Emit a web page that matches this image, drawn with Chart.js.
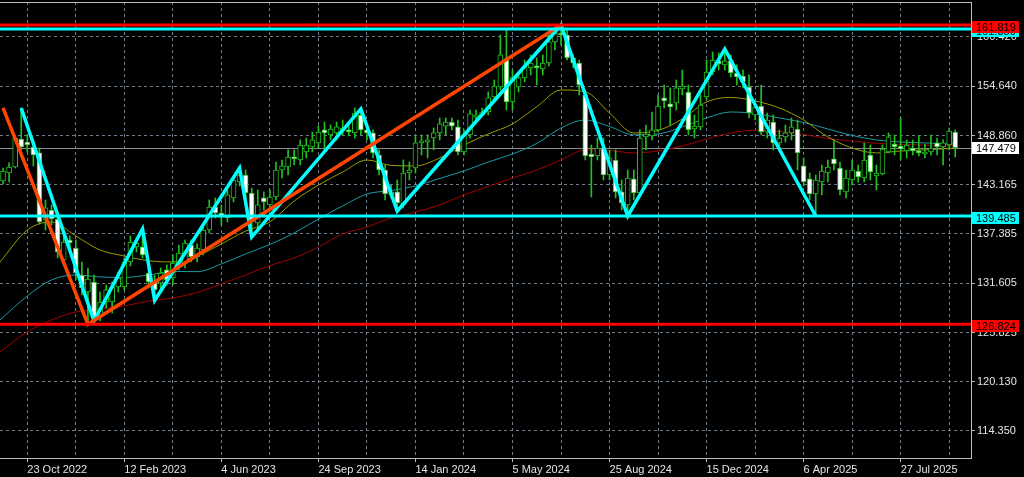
<!DOCTYPE html>
<html>
<head>
<meta charset="utf-8">
<title>Weekly chart</title>
<script src="https://cdn.jsdelivr.net/npm/chart.js@4.4.1/dist/chart.umd.min.js"></script>
<style>
  html, body { margin: 0; padding: 0; background: #000; }
  canvas { display: block; }
</style>
</head>
<body>
<canvas id="chart" width="1024" height="477"></canvas>
<script>
// weekly candles, week 0 = 23 Oct 2022, first candle 4 weeks before
var firstWeek = -4;
var open = [
  143.58, 144.52, 145.22, 148.49, 148.14, 147.56, 146.86, 139.02, 140.19, 139.14,
  134.35, 136.68, 135.75, 132.59, 130.60, 131.77, 127.68, 129.43, 129.43, 131.19,
  131.19, 134.11, 135.87, 135.87, 132.82, 131.77, 131.66, 133.18, 132.24, 133.53,
  133.99, 136.10, 134.69, 135.51, 137.85, 140.54, 139.84, 139.26, 141.60, 143.46,
  144.28, 142.18, 138.67, 141.60, 140.78, 141.71, 144.87, 145.22, 146.39, 146.04,
  146.97, 147.56, 148.03, 149.55, 148.96, 149.20, 149.43, 149.55, 149.20, 151.30,
  149.55, 149.20, 146.62, 144.87, 141.95, 142.30, 140.78, 144.52, 145.10, 148.03,
  148.14, 148.61, 149.20, 149.99, 150.48, 149.90, 146.97, 148.96, 151.07, 151.30,
  151.65, 153.41, 154.57, 157.85, 152.82, 154.57, 155.63, 156.80, 157.03, 156.68,
  157.38, 159.84, 160.77, 160.65, 157.97, 157.38, 153.64, 146.74, 146.51, 147.44,
  144.28, 146.04, 142.30, 140.78, 143.82, 142.18, 148.73, 148.85, 149.55, 153.29,
  152.59, 152.70, 154.34, 153.99, 149.66, 149.90, 153.41, 156.33, 157.62, 157.15,
  157.62, 156.21, 155.86, 154.57, 151.30, 152.35, 149.31, 150.48, 148.03, 148.73,
  149.20, 149.66, 145.34, 143.82, 142.06, 143.46, 144.52, 146.16, 145.10, 142.30,
  143.70, 144.75, 143.93, 146.62, 144.17, 144.40, 146.97, 147.91, 147.67, 147.09,
  147.44, 147.09, 146.74, 146.97, 148.03, 147.56, 147.79, 149.31
];
var high = [
  145.10, 145.69, 148.96, 152.12, 148.96, 148.38, 147.44, 141.36, 140.78, 139.96,
  137.62, 137.15, 136.68, 134.11, 133.41, 132.59, 130.60, 131.42, 131.77, 132.94,
  134.58, 137.15, 136.92, 137.97, 133.41, 132.59, 133.41, 133.76, 134.93, 136.10,
  136.68, 136.68, 136.22, 138.20, 141.36, 141.60, 140.78, 142.53, 144.17, 145.10,
  144.87, 142.76, 142.53, 142.30, 142.53, 145.80, 146.04, 147.21, 147.21, 148.38,
  148.61, 149.31, 150.01, 150.48, 150.13, 150.48, 150.71, 150.48, 152.12, 152.00,
  150.13, 149.55, 147.21, 145.45, 143.11, 143.70, 146.04, 145.80, 148.73, 148.96,
  148.96, 149.78, 150.95, 150.95, 150.95, 150.71, 149.55, 151.88, 151.88, 152.12,
  154.00, 155.39, 160.65, 161.24, 156.56, 156.33, 157.73, 158.32, 157.97, 158.32,
  160.65, 161.47, 161.82, 161.47, 158.32, 157.73, 154.22, 147.79, 148.61, 148.61,
  147.21, 147.21, 143.70, 144.87, 144.87, 149.55, 150.13, 151.65, 153.64, 154.81,
  154.46, 155.39, 156.56, 154.81, 151.30, 153.64, 157.73, 158.67, 158.55, 159.02,
  158.32, 157.15, 156.56, 155.98, 153.05, 154.81, 151.53, 151.30, 149.55, 150.13,
  150.95, 150.71, 146.27, 144.52, 144.28, 145.45, 146.04, 148.38, 145.80, 144.87,
  146.04, 145.45, 148.03, 147.79, 145.45, 147.79, 149.20, 148.96, 150.95, 148.38,
  148.38, 148.85, 147.91, 148.96, 148.61, 148.38, 149.78, 149.55
];
var low = [
  143.23, 143.46, 145.10, 147.21, 146.97, 145.34, 138.55, 137.85, 138.44, 134.58,
  133.76, 135.75, 132.01, 130.25, 126.82, 127.20, 127.21, 128.73, 128.15, 130.60,
  130.84, 133.64, 135.28, 134.58, 131.07, 129.60, 130.84, 131.42, 131.42, 133.18,
  133.41, 134.11, 134.11, 134.93, 137.50, 139.26, 138.44, 138.79, 141.13, 143.00,
  141.60, 137.03, 138.09, 140.19, 140.19, 141.36, 143.93, 144.28, 145.45, 145.45,
  146.27, 146.97, 147.44, 147.21, 148.38, 148.38, 148.96, 148.85, 148.61, 148.96,
  148.38, 146.27, 144.28, 141.36, 141.60, 140.07, 140.43, 143.70, 144.52, 146.62,
  146.27, 147.21, 148.38, 148.96, 149.55, 146.62, 146.62, 148.61, 150.71, 151.18,
  151.30, 153.05, 154.22, 151.88, 151.88, 153.99, 155.16, 155.98, 154.81, 155.98,
  157.03, 158.90, 159.49, 157.73, 156.80, 153.64, 146.04, 141.71, 146.04, 143.70,
  143.70, 141.60, 140.19, 139.49, 141.36, 141.83, 147.21, 148.38, 149.31, 152.12,
  150.13, 151.88, 153.64, 148.96, 148.61, 149.55, 153.05, 155.98, 156.56, 156.56,
  155.74, 154.81, 154.46, 150.95, 150.71, 148.96, 148.61, 147.21, 147.44, 148.14,
  148.38, 144.87, 142.99, 141.36, 139.49, 141.95, 143.46, 144.87, 141.95, 141.60,
  143.11, 143.46, 143.46, 143.70, 142.53, 144.28, 146.86, 146.62, 146.04, 146.27,
  146.62, 146.51, 146.27, 146.62, 146.62, 145.45, 147.21, 146.39
];
var close = [
  144.75, 145.22, 148.61, 147.56, 147.79, 146.62, 138.79, 140.43, 139.14, 135.28,
  136.45, 136.33, 132.82, 131.07, 132.12, 127.68, 129.43, 130.84, 131.19, 132.24,
  134.11, 136.45, 136.33, 134.93, 131.77, 130.84, 132.82, 132.01, 133.99, 135.16,
  136.33, 134.69, 135.75, 137.85, 140.54, 139.84, 139.37, 141.95, 143.70, 144.28,
  142.18, 138.79, 140.78, 141.13, 141.71, 144.87, 145.34, 146.39, 146.16, 147.79,
  147.79, 148.38, 149.31, 149.20, 149.66, 149.90, 149.78, 149.31, 151.53, 149.55,
  149.20, 146.86, 144.87, 142.06, 142.30, 141.01, 144.52, 144.87, 148.03, 148.26,
  148.38, 149.20, 150.25, 150.48, 149.99, 146.97, 148.96, 151.42, 151.30, 151.65,
  153.29, 154.69, 158.32, 152.82, 155.74, 155.63, 156.91, 157.38, 156.80, 157.38,
  159.84, 160.89, 160.65, 157.97, 157.38, 154.81, 146.51, 146.39, 147.44, 144.28,
  146.27, 142.30, 141.01, 143.93, 142.18, 148.61, 149.08, 149.55, 152.35, 152.94,
  152.23, 154.46, 154.69, 149.55, 150.01, 152.47, 156.33, 157.73, 157.27, 157.62,
  156.21, 155.74, 155.16, 151.53, 152.23, 149.31, 150.71, 148.03, 148.61, 149.20,
  149.90, 146.86, 143.46, 142.06, 143.70, 144.75, 145.22, 145.57, 142.53, 143.93,
  144.87, 144.05, 146.04, 144.63, 144.52, 147.32, 148.73, 147.56, 147.32, 147.79,
  147.09, 146.86, 146.97, 147.44, 147.56, 148.03, 149.43, 147.48
];

// moving averages
var maWeeks = [-4.5, 0, 4, 8, 12, 16, 20, 24, 28, 32, 36, 40, 44, 48, 52, 56, 60, 64, 68, 72,
  76, 80, 84, 88, 92, 96, 100, 104, 108, 112, 116, 120, 124, 128, 132, 136, 140, 144, 148, 152, 153];
var maYellow = [134.11, 137.85, 138.79, 137.15, 135.51, 134.81, 134.26, 134.11, 134.81, 136.22,
  137.73, 138.79, 141.24, 143.11, 144.63, 146.04, 145.40, 145.34, 146.27, 147.79,
  149.08, 150.25, 152.26, 154.22, 154.02, 151.53, 149.20, 149.49, 150.83, 152.82,
  153.35, 152.94, 152.12, 150.71, 148.73, 147.44, 146.86, 147.09, 147.21, 147.38, 147.44];
var maTeal = [127.33, 130.14, 132.01, 132.59, 132.36, 132.30, 132.59, 133.00, 132.98, 133.88,
  135.05, 136.16, 137.50, 139.14, 140.66, 142.06, 142.47, 143.00, 143.88, 144.75,
  145.80, 146.74, 147.97, 149.78, 150.71, 149.95, 148.99, 149.08, 149.90, 150.95,
  151.65, 151.47, 150.95, 150.42, 149.66, 148.90, 148.38, 148.14, 148.03, 147.93, 147.91];
var maRed = [123.59, 125.93, 127.33, 128.26, 128.61, 128.97, 129.55, 129.90, 130.55, 131.54,
  132.59, 133.70, 134.58, 135.86, 137.38, 138.20, 139.26, 139.96, 140.78, 141.95,
  142.94, 143.93, 144.87, 146.04, 147.21, 147.15, 146.86, 147.09, 147.67, 148.49,
  149.20, 149.52, 149.37, 149.02, 148.55, 148.26, 148.00, 147.85, 147.77, 147.71, 147.71];

// zigzag swings
var cyanWeeks = [-1, 11, 19, 21, 35, 37, 55, 61, 88, 99, 115, 130];
var cyanPrices = [152.12, 127.20, 137.97, 129.60, 145.10, 137.03, 152.00, 140.07, 161.82, 139.49, 159.02, 139.49];
var orangeWeeks = [-4, 10, 88];
var orangePrices = [152.12, 126.82, 161.82];

// horizontal levels and last price
var levelPrices = [161.35, 161.819, 139.485, 126.824];
var levelKinds = ['cyan', 'red', 'cyan', 'red'];
var lastPrice = 147.479;

// axes
var tickWeeks = [0, 16, 32, 48, 64, 80, 96, 112, 128, 144];
var tickLabels = ['23 Oct 2022', '12 Feb 2023', '4 Jun 2023', '24 Sep 2023', '14 Jan 2024',
  '5 May 2024', '25 Aug 2024', '15 Dec 2024', '6 Apr 2025', '27 Jul 2025'];
var priceTicks = [160.420, 154.640, 148.860, 143.165, 137.385, 131.605, 125.825, 120.130, 114.350];

var GREEN = '#20c020';
var GRID = '#6e7c8c';
var AXIS = '#bcbcbc';
var kindColor = { cyan: '#00ffff', red: '#ff0000' };

var wickData = [], bodyData = [], bodyFill = [];
for (var k = 0; k < open.length; k++) {
  var w = firstWeek + k;
  wickData.push({ x: w, y: [low[k], high[k]] });
  bodyData.push({ x: w, y: [open[k], close[k]] });
  bodyFill.push(close[k] >= open[k] ? '#000000' : '#ffffff');
}

function pts(xs, ys) {
  return xs.map(function(x, i) { return { x: x, y: ys[i] }; });
}

// keep chart area flush with the canvas edges
function noPad(scale) {
  scale.paddingTop = 0;
  scale.paddingBottom = 0;
  scale.paddingLeft = 0;
  scale.paddingRight = 0;
}

var levelsPlugin = {
  id: 'levels',
  beforeDatasetsDraw: function(chart) {
    var ctx = chart.ctx, a = chart.chartArea;
    var y = Math.round(chart.scales.y.getPixelForValue(lastPrice)) + 0.5;
    ctx.save();
    ctx.strokeStyle = '#8a8a8a';
    ctx.lineWidth = 1;
    ctx.beginPath();
    ctx.moveTo(a.left, y);
    ctx.lineTo(a.right, y);
    ctx.stroke();
    ctx.restore();
  },
  afterDatasetsDraw: function(chart) {
    var ctx = chart.ctx, a = chart.chartArea;
    ctx.save();
    levelPrices.forEach(function(p, i) {
      var y = chart.scales.y.getPixelForValue(p);
      ctx.strokeStyle = kindColor[levelKinds[i]];
      ctx.lineWidth = 3;
      ctx.beginPath();
      ctx.moveTo(a.left, y);
      ctx.lineTo(a.right, y);
      ctx.stroke();
    });
    ctx.restore();
  },
  afterDraw: function(chart) {
    var ctx = chart.ctx, a = chart.chartArea;
    ctx.save();
    // top frame line
    ctx.strokeStyle = AXIS;
    ctx.lineWidth = 1;
    ctx.beginPath();
    ctx.moveTo(a.left, a.top + 0.5);
    ctx.lineTo(a.right, a.top + 0.5);
    ctx.stroke();

    ctx.font = '11px "Liberation Sans", Arial, sans-serif';
    ctx.textBaseline = 'middle';
    ctx.textAlign = 'left';
    function box(p, fill, top) {
      var y = Math.round(chart.scales.y.getPixelForValue(p));
      ctx.fillStyle = fill;
      ctx.fillRect(a.right + 1, y + top, 47, 12);
      ctx.fillStyle = '#000000';
      ctx.fillText(p.toFixed(3), a.right + 5, y + top + 6.5);
    }
    levelPrices.forEach(function(p, i) { box(p, kindColor[levelKinds[i]], -4); });
    box(lastPrice, '#ffffff', -6);
    ctx.restore();
  }
};

var chart = new Chart(document.getElementById('chart'), {
  type: 'bar',
  data: {
    datasets: [
      { type: 'line', data: pts(orangeWeeks, orangePrices), borderColor: '#ff4500', borderWidth: 3.5,
        pointRadius: 0, order: 1 },
      { type: 'line', data: pts(cyanWeeks, cyanPrices), borderColor: '#00ffff', borderWidth: 3.5,
        pointRadius: 0, order: 2 },
      { data: bodyData, backgroundColor: bodyFill, borderColor: GREEN, borderWidth: 1,
        borderSkipped: false, barThickness: 5, minBarLength: 2, grouped: false, order: 3 },
      { data: wickData, backgroundColor: GREEN, borderWidth: 0, barThickness: 1,
        grouped: false, order: 4 },
      { type: 'line', data: pts(maWeeks, maYellow), borderColor: '#9c9c00', borderWidth: 1,
        pointRadius: 0, cubicInterpolationMode: 'monotone', order: 5 },
      { type: 'line', data: pts(maWeeks, maTeal), borderColor: '#1b9aa3', borderWidth: 1,
        pointRadius: 0, cubicInterpolationMode: 'monotone', order: 6 },
      { type: 'line', data: pts(maWeeks, maRed), borderColor: '#a00000', borderWidth: 1,
        pointRadius: 0, cubicInterpolationMode: 'monotone', order: 7 }
    ]
  },
  options: {
    responsive: false,
    animation: false,
    devicePixelRatio: 1,
    layout: { padding: { top: 2, left: 0, right: 0, bottom: 0 } },
    plugins: { legend: { display: false }, tooltip: { enabled: false } },
    events: [],
    scales: {
      x: {
        type: 'linear',
        min: -4.5,
        max: 155.6,
        offset: false,
        grid: {
          offset: false,
          color: GRID,
          tickLength: 4,
          tickColor: function(c) {
            return tickWeeks.indexOf(c.tick && c.tick.value) >= 0 ? AXIS : 'rgba(0,0,0,0)';
          }
        },
        border: { display: true, color: AXIS, dash: [3, 3] },
        afterBuildTicks: function(scale) {
          var t = [];
          tickWeeks.forEach(function(w) { t.push({ value: w }, { value: w + 8 }); });
          scale.ticks = t;
        },
        afterFit: function(scale) { scale.height = 19; noPad(scale); },
        ticks: {
          autoSkip: false,
          maxRotation: 0,
          align: 'start',
          padding: 1,
          color: '#e4e4e4',
          font: { family: '"Liberation Sans", Arial, sans-serif', size: 11 },
          callback: function(v) {
            var i = tickWeeks.indexOf(v);
            return i >= 0 ? tickLabels[i] : '';
          }
        }
      },
      y: {
        type: 'linear',
        position: 'right',
        min: 111.19,
        max: 164.51,
        beginAtZero: false,
        grid: { color: GRID, tickLength: 4, tickColor: AXIS },
        border: { display: true, color: AXIS, dash: [3, 3] },
        afterBuildTicks: function(scale) {
          scale.ticks = priceTicks.map(function(v) { return { value: v }; });
        },
        afterFit: function(scale) { scale.width = 53; noPad(scale); },
        ticks: {
          autoSkip: false,
          padding: 2,
          color: '#e4e4e4',
          font: { family: '"Liberation Sans", Arial, sans-serif', size: 11 },
          callback: function(v) { return Number(v).toFixed(3); }
        }
      }
    }
  },
  plugins: [levelsPlugin]
});
</script>
</body>
</html>
